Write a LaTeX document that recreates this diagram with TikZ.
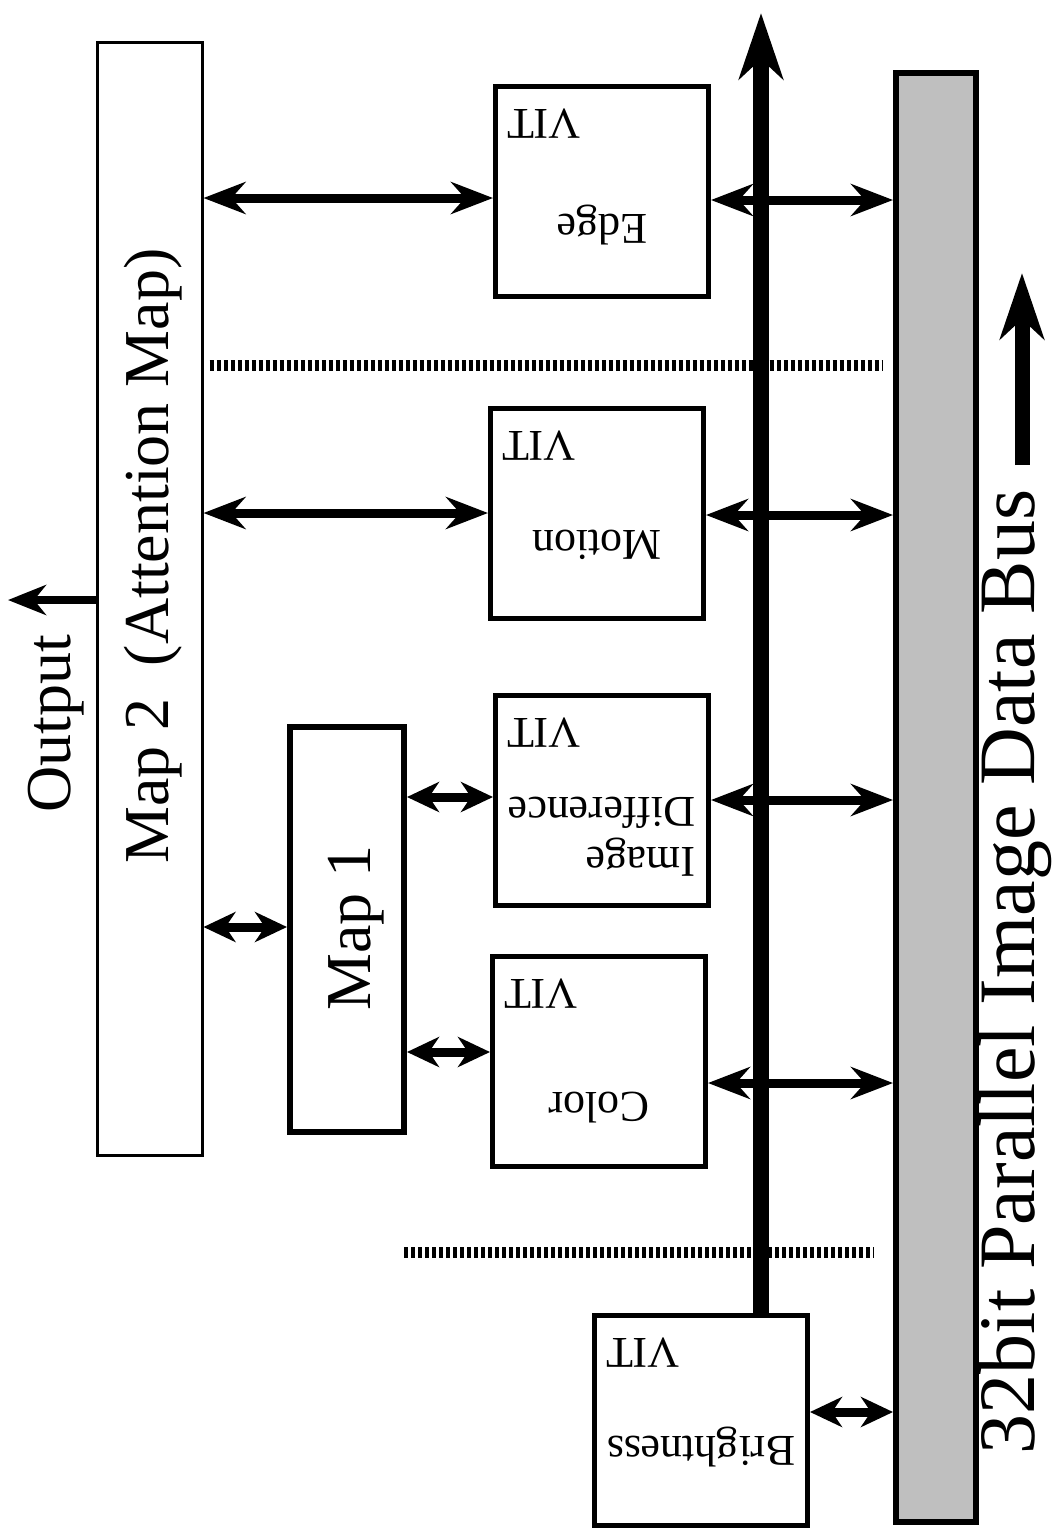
\documentclass[tikz,border=0pt]{standalone}
\usepackage{fontspec}
\setmainfont{Liberation Serif}
\usetikzlibrary{arrows.meta,calc}

\begin{document}
\begin{tikzpicture}[x=.5pt,y=-.5pt,
  box/.style={draw,line width=2.5pt,minimum width=106.5pt,minimum height=105pt,inner sep=0pt},
  lab/.style={rotate=180,inner sep=0pt,font=\fontsize{22}{25}\selectfont},
  big/.style={rotate=90,inner sep=0pt,font=\fontsize{32}{36}\selectfont},
  dbl/.style={{Stealth[length=21pt,width=16pt,inset=7pt]}-{Stealth[length=21pt,width=16pt,inset=7pt]},line width=4.5pt},
  dbls/.style={{Stealth[length=16pt,width=15pt,inset=5pt]}-{Stealth[length=16pt,width=15pt,inset=5pt]},line width=4.5pt},
  sep/.style={line width=5.5pt,dash pattern=on 2pt off 1.5pt},
  fat/.style={line width=8pt,-{Stealth[length=33pt,width=22pt,inset=10pt]}}]
\useasboundingbox (0,0) rectangle (1055,1538);
% maps and bus
\node[draw,line width=1.5pt,minimum width=52.5pt,minimum height=556.5pt,inner sep=0pt] (map2) at (149.5,598.5) {};
\node[draw,line width=3pt,minimum width=57pt,minimum height=202.5pt,inner sep=0pt] (map1) at (347,929.5) {};
\node[draw,line width=3pt,fill=black!25,minimum width=40pt,minimum height=724.5pt,inner sep=0pt] (bus) at (936,797.5) {};
\node[big] (map2-t) at (153,556) {Map 2~~(Attention Map)};
\node[big] (map1-t) at (356,928) {Map 1};
\node[big] (out-t) at (56,724) {Output};
\node[big,font=\fontsize{40}{44}\selectfont] (bus-t) at (1015,972) {32bit Parallel Image Data Bus};
% VIT boxes
\foreach \n/\cx/\cy/\txt/\dy in {edge/602/191/Edge/34,motion/597/513/Motion/32,diff/602/800/{Image\\Difference}/37,color/599/1061/Color/47,bri/701/1420/Brightness/27}{
  \node[box] (\n) at (\cx,\cy) {};
  \node[lab,align=left] (\n-t) at ($(\n)+(0,\dy)$) {\txt};
  \node[lab] (\n-v) at ($(\n)+(-58,-67)$) {VIT};
}
% separators
\draw[sep] ($(map2.east |- 0,365)+(6,0)$) -- (882,365);
\draw[sep] (404,1252) -- (874,1252);
% connectors
\foreach \n/\y in {edge/198,motion/513}
  \draw[dbl] (map2.east |- 0,\y) -- (\n.west |- 0,\y);
\foreach \n/\y in {edge/200,motion/515,diff/800,color/1083}
  \draw[dbl] (\n.east |- 0,\y) -- (bus.west |- 0,\y);
\draw[dbls] (bri.east |- 0,1412) -- (bus.west |- 0,1412);
\draw[dbls] (map1.east |- 0,797) -- (diff.west |- 0,797);
\draw[dbls] (map1.east |- 0,1052) -- (color.west |- 0,1052);
\draw[dbls] (map2.east |- 0,927) -- (map1.west |- 0,927);
\coordinate (out) at (8,600);
\draw[line width=4pt,-{Stealth[length=19pt,width=15pt,inset=6pt]}] (map2.west |- out) -- (out);
\coordinate (top) at (761,13);
\draw[fat] ($(bri.north)+(60,0)$) -- (top);
\coordinate (b0) at (1022,465);
\coordinate (b1) at (1022,273);
\draw[fat,line width=7.5pt] (b0) -- (b1);
\end{tikzpicture}
\end{document}
